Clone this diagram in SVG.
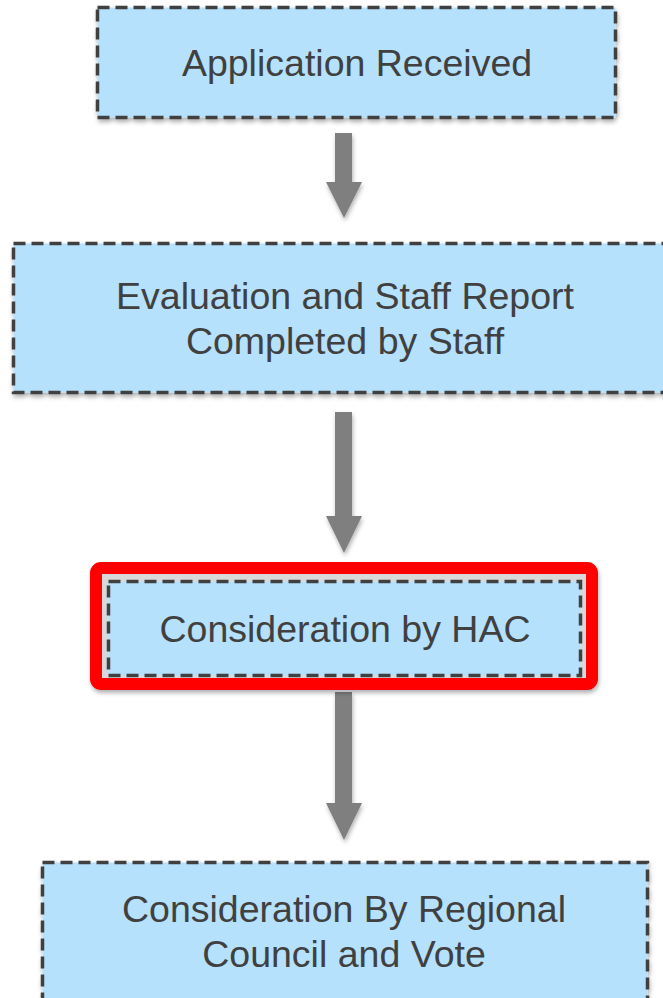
<svg xmlns="http://www.w3.org/2000/svg" width="663" height="998" viewBox="0 0 663 998">
<style>
.box{fill:#b5e1fd;stroke:#404040;stroke-width:3.5;stroke-dasharray:12 6;}
.lbl{font-family:"Liberation Sans",Arial,sans-serif;font-size:37.5px;fill:#404040;text-anchor:middle;}
.arr{fill:#7f7f7f;}
</style>
<defs>
<filter id="sh" x="-10%" y="-10%" width="120%" height="130%">
<feDropShadow dx="1" dy="3" stdDeviation="2" flood-color="#000" flood-opacity="0.3"/>
</filter>
</defs>
<rect width="663" height="998" fill="#fff"/>
<g id="connectors">
<path class="arr" filter="url(#sh)" d="M335,133 H352 V182 H362 L344,218 L326,182 H335 Z"/>
<path class="arr" filter="url(#sh)" d="M335,412 H352 V516 H362 L344,553 L326,516 H335 Z"/>
<path class="arr" filter="url(#sh)" d="M335,692 H352 V803 H362 L344,840 L326,803 H335 Z"/>
</g>
<g id="n1">
<rect class="box" filter="url(#sh)" x="97.5" y="7.5" width="518" height="110"/>
<text class="lbl" x="357" y="76">Application Received</text>
</g>
<g id="n2">
<rect class="box" filter="url(#sh)" x="13.5" y="243.5" width="660" height="149"/>
<text class="lbl" x="345" y="309">Evaluation and Staff Report</text>
<text class="lbl" x="345" y="354">Completed by Staff</text>
</g>
<g id="n3">
<rect x="96" y="568" width="496" height="116" rx="5" fill="#d9d9d9" stroke="#ff0000" stroke-width="12" filter="url(#sh)"/>
<rect class="box" x="108.5" y="581.5" width="472" height="94"/>
<text class="lbl" x="345" y="642">Consideration by HAC</text>
</g>
<g id="n4">
<rect class="box" filter="url(#sh)" x="42.5" y="862.5" width="605" height="150"/>
<text class="lbl" x="344" y="922">Consideration By Regional</text>
<text class="lbl" x="344" y="967">Council and Vote</text>
</g>
</svg>
